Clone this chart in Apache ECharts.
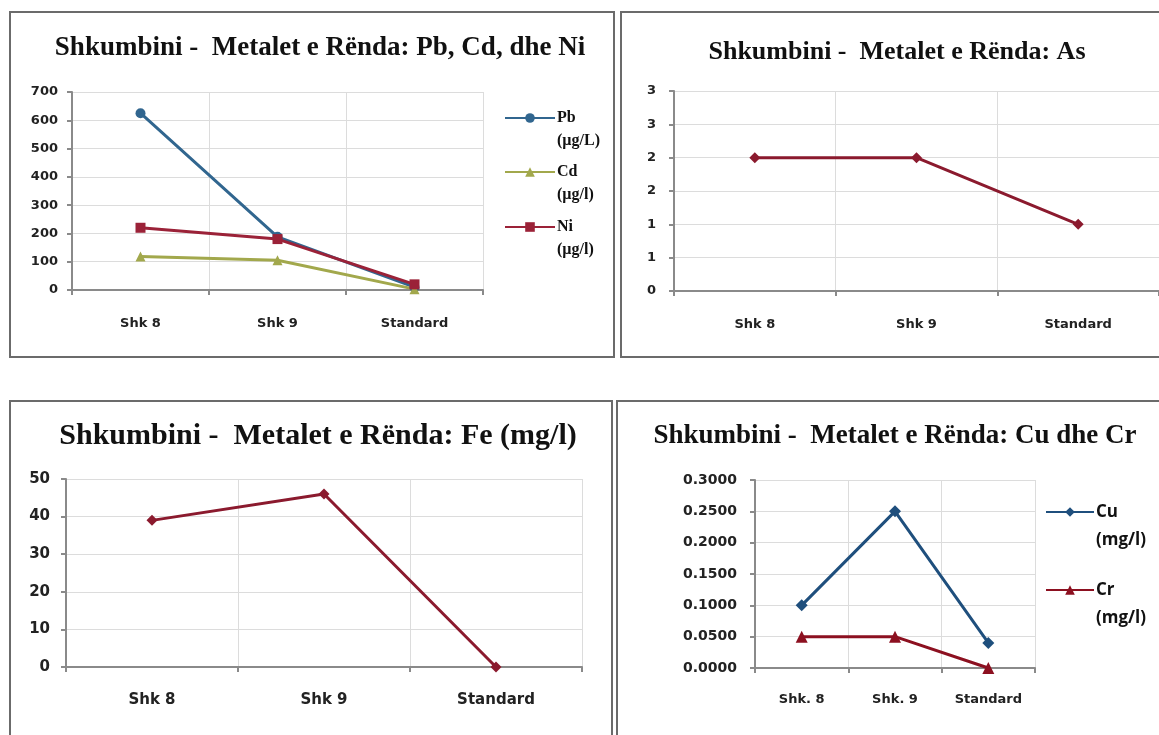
<!DOCTYPE html>
<html>
<head>
<meta charset="utf-8">
<script src="https://cdn.jsdelivr.net/npm/echarts@6/dist/echarts.min.js"></script>
<style>
html,body{margin:0;padding:0;background:#fff;}
#c{width:1159px;height:735px;}
</style>
</head>
<body>
<div id="c"></div>
<script>
// ---- data ----
const categories = ['Shk 8', 'Shk 9', 'Standard'];
const categoriesCu = ['Shk. 8', 'Shk. 9', 'Standard'];

const titles = [
  'Shkumbini -  Metalet e Rënda: Pb, Cd, dhe Ni',
  'Shkumbini -  Metalet e Rënda: As',
  'Shkumbini -  Metalet e Rënda: Fe (mg/l)',
  'Shkumbini -  Metalet e Rënda: Cu dhe Cr'
];

const pbNames = ['Pb', 'Cd', 'Ni'];
const pbUnits = ['(µg/L)', '(µg/l)', '(µg/l)'];
const pbValues = [625, 188, 10];
const cdValues = [118, 105, 3];
const niValues = [220, 180, 20];

const asValues = [2, 2, 1];
const feValues = [39, 46, 0];

const cuNames = ['Cu', 'Cr'];
const cuUnits = ['(mg/l)', '(mg/l)'];
const cuValues = [0.1, 0.25, 0.04];
const crValues = [0.05, 0.05, 0.0];

// ---- styling ----
const axisGrey = '#8a8a8a';
const gridGrey = '#dcdcdc';
const tickFont = {fontFamily: 'DejaVu Sans', fontWeight: 'bold', fontSize: 13, color: '#222'};

function xAx(gridIndex, data, fontSize, margin) {
  return {
    type: 'category', gridIndex, data, boundaryGap: true,
    axisLine: {lineStyle: {color: axisGrey, width: 2}},
    axisTick: {show: true, length: 5, interval: 0, lineStyle: {color: axisGrey, width: 2}},
    splitLine: {show: true, interval: 0, lineStyle: {color: gridGrey, width: 1}},
    axisLabel: Object.assign({}, tickFont, {interval: 0, hideOverlap: false, margin: margin || 26, fontSize: fontSize || 13})
  };
}
function yAx(gridIndex, max, interval, fmt, fontSize, margin) {
  return {
    type: 'value', gridIndex, min: 0, max, interval,
    axisLine: {show: true, lineStyle: {color: axisGrey, width: 2}},
    axisTick: {show: true, length: 5, lineStyle: {color: axisGrey, width: 2}},
    splitLine: {show: true, lineStyle: {color: gridGrey, width: 1}},
    axisLabel: Object.assign({}, tickFont, {margin: margin || 14, fontSize: fontSize || 13, formatter: fmt})
  };
}
function line(name, data, xi, color, symbol, size) {
  return {
    type: 'line', name, data, xAxisIndex: xi, yAxisIndex: xi,
    symbol, symbolSize: size || 9, showSymbol: true,
    lineStyle: {color, width: 3}, itemStyle: {color},
    animation: false, z: 3
  };
}

const titleSizes = [27, 26, 30, 27];
const frames = [
  [10, 12, 604, 345],
  [621, 12, 560, 345],
  [10, 401, 602, 350],
  [617, 401, 560, 350]
];
const titlePos = [[320, 48], [897, 52], [318, 436], [895, 436]];

const graphics = [];
frames.forEach(f => graphics.push({
  type: 'rect', shape: {x: f[0], y: f[1], width: f[2], height: f[3]},
  style: {fill: 'none', stroke: '#6b6b6b', lineWidth: 2}, silent: true
}));
titles.forEach((t, i) => graphics.push({
  type: 'text', x: titlePos[i][0], y: titlePos[i][1],
  style: {text: t, font: 'bold ' + titleSizes[i] + 'px "Liberation Serif"', fill: '#111',
          textAlign: 'center', textVerticalAlign: 'middle'}
}));

function legendFor(name, unit, left, iconY, lh, font, width) {
  return {
    data: [name], left, top: iconY - lh * 1.5, orient: 'vertical',
    itemWidth: width, itemHeight: 12, itemGap: 0, padding: 0,
    formatter: n => '\n' + n + '\n' + unit,
    textStyle: Object.assign({color: '#111', lineHeight: lh, padding: [0, 0, 0, -3]}, font)
  };
}
const serifLeg = {fontFamily: 'Liberation Serif', fontWeight: 'bold', fontSize: 16};
const sansLeg = {fontFamily: 'Open Sans', fontWeight: 'bold', fontSize: 17};

const option = {
  backgroundColor: '#fff',
  animation: false,
  grid: [
    {left: 72, top: 92, width: 411, height: 198},
    {left: 674, top: 91, width: 489, height: 200},
    {left: 66, top: 479, width: 516, height: 188},
    {left: 755, top: 480, width: 280, height: 188}
  ],
  xAxis: [xAx(0, categories, 13, 27), xAx(1, categories, 13, 27),
          xAx(2, categories, 15, 26), xAx(3, categoriesCu, 13, 25)],
  yAxis: [
    yAx(0, 700, 100, null, 13, 14),
    yAx(1, 3, 0.5, v => String(Math.round(v)), 13, 18),
    yAx(2, 50, 10, null, 15, 16),
    yAx(3, 0.3, 0.05, v => v.toFixed(4), 14, 18)
  ],
  legend: [
    legendFor(pbNames[0], pbUnits[0], 504, 118, 23, serifLeg, 50),
    legendFor(pbNames[1], pbUnits[1], 504, 172, 23, serifLeg, 50),
    legendFor(pbNames[2], pbUnits[2], 504, 227, 23, serifLeg, 50),
    legendFor(cuNames[0], cuUnits[0], 1045, 512, 28, sansLeg, 48),
    legendFor(cuNames[1], cuUnits[1], 1045, 590, 28, sansLeg, 48)
  ],
  graphic: graphics,
  series: [
    line(pbNames[0], pbValues, 0, '#31668f', 'circle', 10),
    line(pbNames[1], cdValues, 0, '#a2a84c', 'triangle', 10),
    line(pbNames[2], niValues, 0, '#9b2238', 'rect', 10),
    line('As', asValues, 1, '#8b1a2e', 'diamond', 11),
    line('Fe', feValues, 2, '#8b1a2e', 'diamond', 11),
    line(cuNames[0], cuValues, 3, '#1f4f7d', 'diamond', 12),
    line(cuNames[1], crValues, 3, '#8c1020', 'triangle', 12)
  ]
};

const chart = echarts.init(document.getElementById('c'));
chart.setOption(option);
</script>
</body>
</html>
